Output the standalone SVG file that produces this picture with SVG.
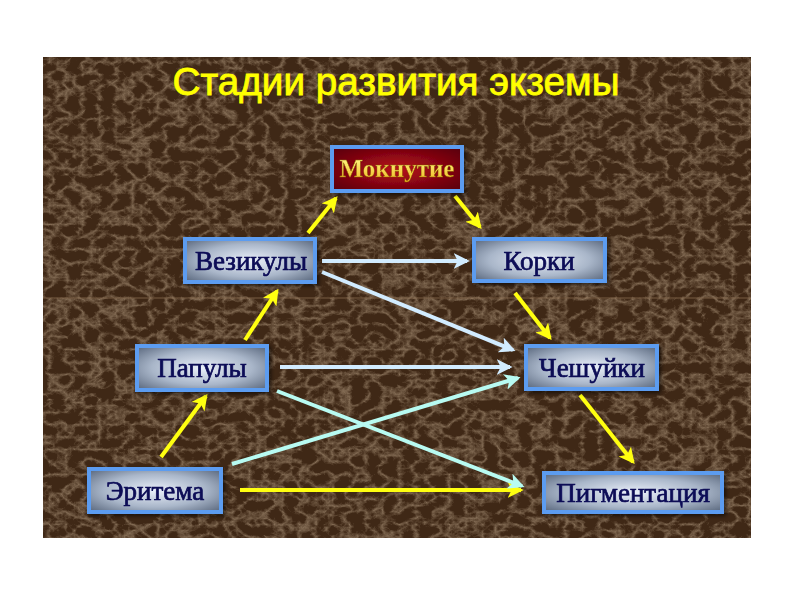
<svg xmlns="http://www.w3.org/2000/svg" width="794" height="595" viewBox="0 0 794 595">
<defs>
<style>
.node rect.box{fill:url(#gBlue);stroke:#5b9cf0;stroke-width:4}
.node text{font-family:"Liberation Serif","Times New Roman",serif;font-size:27px;fill:#0a0a55;stroke:#0a0a55;stroke-width:0.7;text-anchor:middle}
.y{stroke:#ffff10;stroke-width:4;fill:none}
.b{stroke:#d2ecff;stroke-width:4;fill:none}
.c{stroke:#b8fbf2;stroke-width:4;fill:none}
</style>
<radialGradient id="gBlue" cx="0.5" cy="0.5" r="0.7">
<stop offset="0" stop-color="#eaf0fa"/>
<stop offset="0.55" stop-color="#a9b6c9"/>
<stop offset="1" stop-color="#56647a"/>
</radialGradient>
<radialGradient id="gRed" cx="0.5" cy="0.5" r="0.7">
<stop offset="0" stop-color="#b80c1c"/>
<stop offset="1" stop-color="#550008"/>
</radialGradient>
<linearGradient id="gGold" x1="0" y1="0" x2="0" y2="1">
<stop offset="0" stop-color="#ffff90"/>
<stop offset="1" stop-color="#f0b820"/>
</linearGradient>
<filter id="marble" x="0" y="0" width="100%" height="100%">
<feTurbulence type="turbulence" baseFrequency="0.06 0.08" numOctaves="4" seed="11" result="n"/>
<feColorMatrix type="matrix" values="0 0 0 0 0.74  0 0 0 0 0.58  0 0 0 0 0.40  0 0 0 -2.6 1.0" />
</filter>
<filter id="sh" x="-10%" y="-20%" width="130%" height="150%">
<feDropShadow dx="2" dy="2" stdDeviation="2" flood-color="#000" flood-opacity="0.6"/>
</filter>
<marker id="ay" viewBox="0 0 12 12" refX="10" refY="6" markerWidth="4" markerHeight="4" orient="auto" markerUnits="strokeWidth">
<path d="M0,0 L12,6 L0,12 L3,6 z" fill="#ffff10"/>
</marker>
<marker id="ab" viewBox="0 0 12 12" refX="10" refY="6" markerWidth="4" markerHeight="4" orient="auto" markerUnits="strokeWidth">
<path d="M0,0 L12,6 L0,12 L3,6 z" fill="#d2ecff"/>
</marker>
<marker id="ac" viewBox="0 0 12 12" refX="10" refY="6" markerWidth="4" markerHeight="4" orient="auto" markerUnits="strokeWidth">
<path d="M0,0 L12,6 L0,12 L3,6 z" fill="#b8fbf2"/>
</marker>
</defs>
<rect width="794" height="595" fill="#ffffff"/>
<rect x="43" y="57" width="708" height="481" fill="#3f2816"/>
<rect x="43" y="57" width="708" height="481" filter="url(#marble)" opacity="0.45"/>
<line x1="43" y1="298" x2="751" y2="298" stroke="#b09070" stroke-width="1" opacity="0.5"/>
<text x="396" y="95" font-family="Liberation Sans, Arial, sans-serif" font-size="38" fill="#ffff00" stroke="#ffff00" stroke-width="0.8" text-anchor="middle" textLength="447" lengthAdjust="spacingAndGlyphs">Стадии развития экземы</text>

<g id="connectors">
<line class="y" x1="308" y1="233" x2="336" y2="198" marker-end="url(#ay)"/>
<line class="y" x1="455" y1="196" x2="480" y2="227" marker-end="url(#ay)"/>
<line class="y" x1="245" y1="340" x2="277" y2="291" marker-end="url(#ay)"/>
<line class="y" x1="161" y1="457" x2="206" y2="396" marker-end="url(#ay)"/>
<line class="y" x1="515" y1="293" x2="550" y2="338" marker-end="url(#ay)"/>
<line class="y" x1="580" y1="395" x2="633" y2="462" marker-end="url(#ay)"/>
<line class="y" x1="240" y1="490" x2="521" y2="490" marker-end="url(#ay)"/>
<line class="b" x1="322" y1="261" x2="467" y2="261" marker-end="url(#ab)"/>
<line class="b" x1="322" y1="272" x2="513" y2="350" marker-end="url(#ab)"/>
<line class="b" x1="280" y1="367" x2="510" y2="367" marker-end="url(#ab)"/>
<line class="c" x1="277" y1="391" x2="522" y2="486" marker-end="url(#ac)"/>
<line class="c" x1="232" y1="464" x2="518" y2="378" marker-end="url(#ac)"/>
</g>

<g id="n-moknutie" class="node" filter="url(#sh)">
<rect x="332" y="147" width="130" height="44" fill="url(#gRed)" stroke="#5b9cf0" stroke-width="4"/>
<text x="397" y="177" style="font-size:25px;fill:url(#gGold);stroke:#8a6000;stroke-width:0.4;font-weight:bold">Мокнутие</text>
</g>
<g id="n-vezikuly" class="node" filter="url(#sh)">
<rect class="box" x="185" y="239" width="130" height="43"/>
<text x="251" y="270">Везикулы</text>
</g>
<g id="n-korki" class="node" filter="url(#sh)">
<rect class="box" x="474" y="239" width="131" height="42"/>
<text x="539" y="270">Корки</text>
</g>
<g id="n-papuly" class="node" filter="url(#sh)">
<rect class="box" x="137" y="346" width="130" height="44"/>
<text x="202" y="377">Папулы</text>
</g>
<g id="n-cheshuyki" class="node" filter="url(#sh)">
<rect class="box" x="526" y="346" width="131" height="43"/>
<text x="592" y="377">Чешуйки</text>
</g>
<g id="n-eritema" class="node" filter="url(#sh)">
<rect class="box" x="89" y="469" width="132" height="43"/>
<text x="155" y="500">Эритема</text>
</g>
<g id="n-pigmentatsiya" class="node" filter="url(#sh)">
<rect class="box" x="544" y="473" width="178" height="39"/>
<text x="633" y="502">Пигментация</text>
</g>
</svg>
